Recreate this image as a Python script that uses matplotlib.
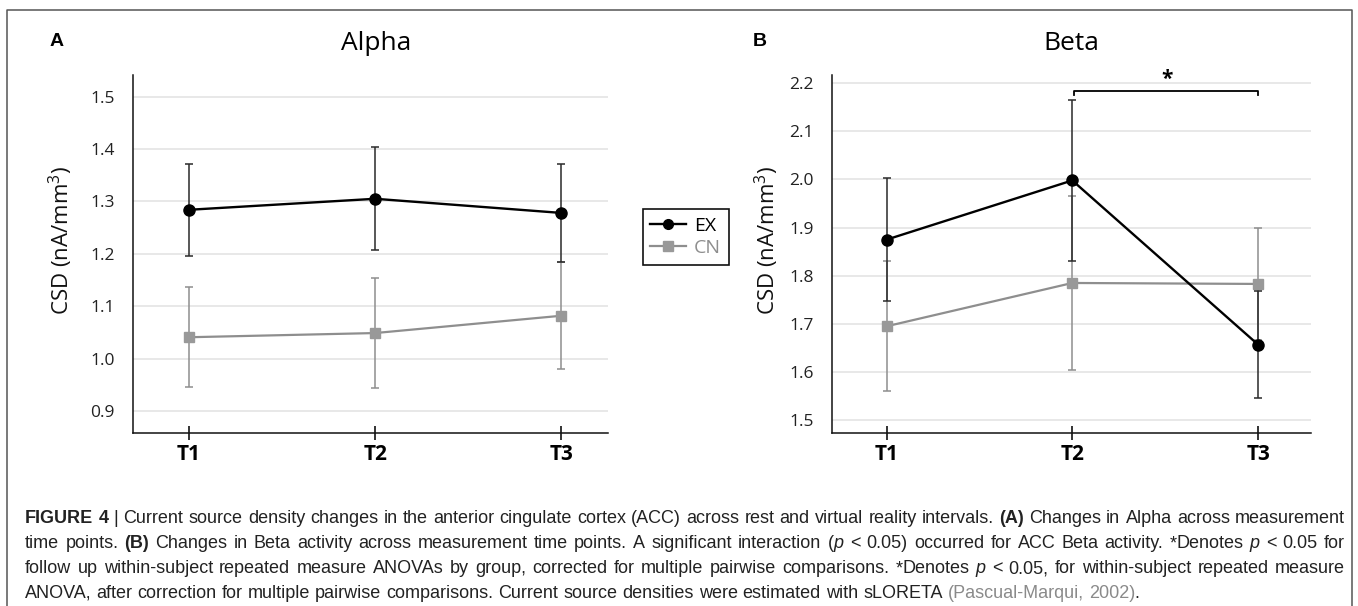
import re
import matplotlib
matplotlib.use("Agg")
import matplotlib.pyplot as plt
from matplotlib.lines import Line2D

# figure size in pixels (dpi 100)
W, H = 1358, 606

times = ["T1", "T2", "T3"]
x_pos = [1, 2, 3]

# Alpha panel (mean and error bar half-width)
alpha_ex = [1.284, 1.305, 1.278]
alpha_ex_err = [0.088, 0.098, 0.093]
alpha_cn = [1.041, 1.049, 1.082]
alpha_cn_err = [0.095, 0.105, 0.102]
alpha_ticks = [0.9, 1.0, 1.1, 1.2, 1.3, 1.4, 1.5]

# Beta panel
beta_ex = [1.875, 1.998, 1.657]
beta_ex_err = [0.128, 0.168, 0.111]
beta_cn = [1.695, 1.785, 1.783]
beta_cn_err = [0.135, 0.180, 0.117]
beta_ticks = [1.5, 1.6, 1.7, 1.8, 1.9, 2.0, 2.1, 2.2]

groups = ["EX", "CN"]

caption = [
    "**FIGURE** **4** | Current source density changes in the anterior cingulate cortex (ACC) across rest and virtual reality intervals. **(A)** Changes in Alpha across measurement",
    "time points. **(B)** Changes in Beta activity across measurement time points. A significant interaction (_p_ < 0.05) occurred for ACC Beta activity. *Denotes _p_ < 0.05 for",
    "follow up within-subject repeated measure ANOVAs by group, corrected for multiple pairwise comparisons. *Denotes _p_ < 0.05, for within-subject repeated measure",
    "ANOVA, after correction for multiple pairwise comparisons. Current source densities were estimated with sLORETA ~(Pascual-Marqui,~ ~2002)~.",
]

EX_COL = "black"
CN_COL = "#8e8e8e"

plt.rcParams["font.family"] = ["Open Sans", "DejaVu Sans"]
plt.rcParams["mathtext.fontset"] = "custom"
plt.rcParams["mathtext.rm"] = "Open Sans"


def fx(px):
    return px / W


def fy(py):
    return 1 - py / H


def setup(ax, ylim, yticks, xlim):
    ax.set_xlim(*xlim)
    ax.set_ylim(*ylim)
    ax.set_yticks(yticks)
    ax.set_yticklabels([f"{t:.1f}" for t in yticks])
    ax.set_xticks(x_pos)
    ax.set_xticklabels(times, fontweight="bold", fontsize=15)
    for s in ("top", "right"):
        ax.spines[s].set_visible(False)
    for s in ("left", "bottom"):
        ax.spines[s].set_linewidth(1.1)
        ax.spines[s].set_color("#111111")
    ax.tick_params(axis="y", length=0, pad=13, labelsize=12.5, labelcolor="#222222")
    ax.tick_params(axis="x", direction="inout", length=10, width=1.2, pad=3,
                   color="#111111")
    ax.grid(axis="y", color="#e2e2e2", lw=1.1)
    ax.set_axisbelow(True)


def draw(ax, ex, ex_err, cn, cn_err):
    ax.errorbar(x_pos, cn, yerr=cn_err, color=CN_COL, ecolor=CN_COL, lw=1.6,
                elinewidth=1.1, capsize=3, capthick=1.1, marker="s", ms=7.5,
                mfc="#999999", mec="#999999", zorder=3)
    ax.errorbar(x_pos, ex, yerr=ex_err, color=EX_COL, ecolor="#2a2a2a", lw=1.7,
                elinewidth=1.1, capsize=3, capthick=1.1, marker="o", ms=8,
                zorder=4)


fig = plt.figure(figsize=(W / 100, H / 100), dpi=100)

ax_a = fig.add_axes([fx(133), fy(432.7), fx(608 - 133), (432.7 - 75) / H])
setup(ax_a, (0.859, 1.541), alpha_ticks, (0.70, 3.25))
draw(ax_a, alpha_ex, alpha_ex_err, alpha_cn, alpha_cn_err)

ax_b = fig.add_axes([fx(831.7), fy(432.7), fx(1311 - 831.7), (432.7 - 75) / H])
setup(ax_b, (1.474, 2.217), beta_ticks, (0.705, 3.285))
draw(ax_b, beta_ex, beta_ex_err, beta_cn, beta_cn_err)

# significance bracket T2-T3
sig_y = 2.183
ax_b.plot([2.01, 2.01, 3, 3], [sig_y - 0.008, sig_y, sig_y, sig_y - 0.008],
          color="black", lw=1.3, clip_on=False, zorder=5)
ax_b.text(2.51, sig_y + 0.002, "*", ha="center", va="bottom", fontsize=15,
          fontweight="bold")

# titles, panel letters, axis labels
fig.text(fx(376), fy(43), "Alpha", ha="center", va="center", fontsize=19)
fig.text(fx(1071), fy(43), "Beta", ha="center", va="center", fontsize=19)
fig.text(fx(56.7), fy(42), "A", ha="center", va="center", fontsize=14,
         fontweight="bold", family=["Liberation Sans", "DejaVu Sans"])
fig.text(fx(760), fy(42), "B", ha="center", va="center", fontsize=14,
         fontweight="bold", family=["Liberation Sans", "DejaVu Sans"])
for xc in (61, 767):
    fig.text(fx(xc), fy(240), r"CSD (nA/mm$^3$)", rotation=90, ha="center",
             va="center", fontsize=16, color="#111111")

# legend
handles = [
    Line2D([], [], color=EX_COL, lw=1.7, marker="o", ms=7),
    Line2D([], [], color=CN_COL, lw=1.6, marker="s", ms=6.5, mfc="#999999",
           mec="#999999"),
]
leg = fig.legend(handles, groups, loc="upper left",
                 bbox_to_anchor=(fx(642.7), fy(209.3)), frameon=True,
                 fancybox=False, edgecolor="#111111", framealpha=1,
                 borderpad=0.4, handlelength=1.85, handletextpad=0.4,
                 labelspacing=0.2, borderaxespad=0,
                 prop={"family": ["Open Sans", "DejaVu Sans"], "size": 14})
leg.get_frame().set_linewidth(1.2)
leg.get_texts()[1].set_color(CN_COL)

# outer border (open at the bottom)
fig.add_artist(Line2D([fx(7.3), fx(7.3), fx(1352), fx(1352)],
                      [fy(H + 5), fy(10), fy(10), fy(H + 5)],
                      transform=fig.transFigure, color="#555555", lw=1.1))

# caption, justified
TOKEN = re.compile(r"\*\*(.+?)\*\*|_(.+?)_|~(.+?)~|([^*_~]+|\*)")
cap_font = dict(family=["Liberation Sans", "DejaVu Sans"], fontsize=13.0,
                color="#222222")
styles = {
    "normal": {},
    "bold": {"fontweight": "bold"},
    "italic": {"fontstyle": "italic"},
    "grey": {"color": "#8a8a8a"},
}


def segments(word):
    out = []
    for b, i, g, r in TOKEN.findall(word):
        if b:
            out.append((b, "bold"))
        elif i:
            out.append((i, "italic"))
        elif g:
            out.append((g, "grey"))
        else:
            out.append((r, "normal"))
    return out


renderer = fig.canvas.get_renderer()


def width_of(txt, style):
    t = fig.text(0, 0, txt, **{**cap_font, **styles[style]})
    w = t.get_window_extent(renderer).width
    t.remove()
    return w


space = width_of("a a", "normal") - width_of("aa", "normal")
left, right = 25, 1345
baselines = [523, 548, 573, 598]

for k, line in enumerate(caption):
    words = [segments(w) for w in line.split(" ")]
    widths = [[width_of(s, st) for s, st in w] for w in words]
    total = sum(sum(ws) for ws in widths)
    if k < len(caption) - 1:
        gap = max((right - left - total) / (len(words) - 1), 0.6 * space)
    else:
        gap = space
    x = left
    for w, ws in zip(words, widths):
        for (s, st), sw in zip(w, ws):
            fig.text(fx(x), fy(baselines[k]), s, ha="left", va="baseline",
                     **{**cap_font, **styles[st]})
            x += sw
        x += gap

fig.savefig("out.png", dpi=100)
